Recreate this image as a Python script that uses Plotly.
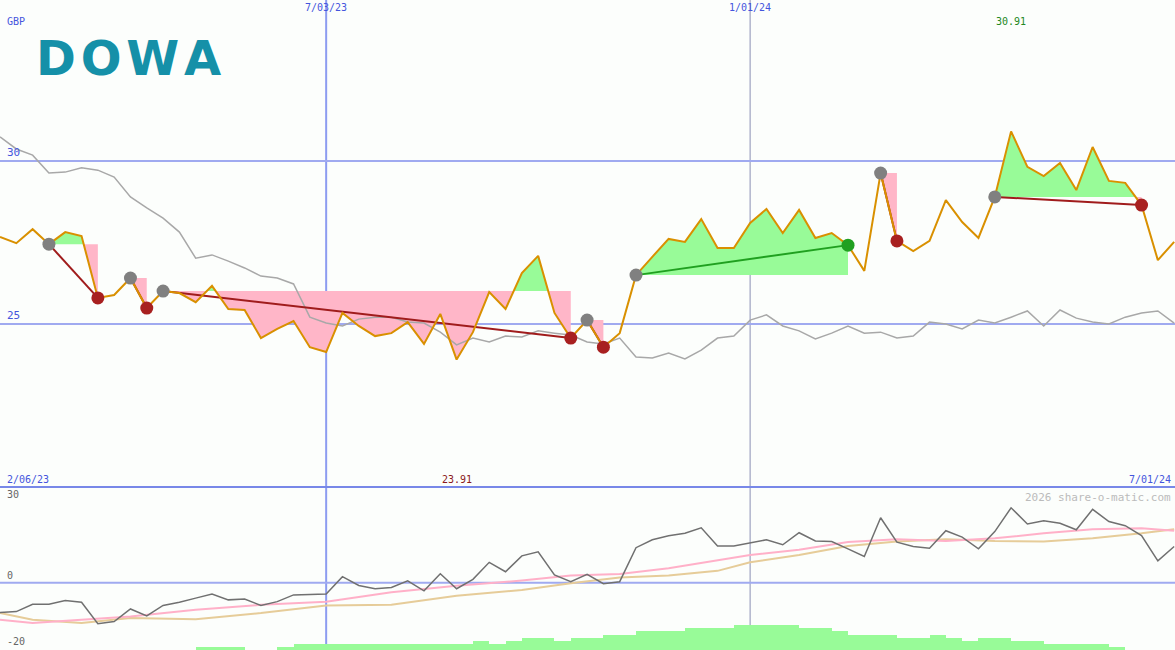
import pandas as pd
import plotly.graph_objects as go

# weekly closes (GBP)
dates = pd.date_range("2023-02-13", periods=73, freq="7D")
price = [27.67, 27.48, 27.91, 27.45, 27.82, 27.70, 25.80, 25.89, 26.41, 25.49,
         26.01, 25.95, 25.67, 26.17, 25.46, 25.43, 24.57, 24.85, 25.09, 24.29,
         24.14, 25.34, 24.94, 24.63, 24.72, 25.06, 24.39, 25.31, 23.91, 24.75,
         25.98, 25.46, 26.56, 27.09, 25.34, 24.57, 25.12, 24.29, 24.72, 26.50,
         27.06, 27.61, 27.52, 28.22, 27.33, 27.33, 28.10, 28.53, 27.79, 28.50,
         27.64, 27.79, 27.42, 26.63, 29.63, 27.55, 27.24, 27.55, 28.80, 28.13,
         27.64, 28.90, 30.91, 29.82, 29.54, 29.94, 29.11, 30.43, 29.39, 29.33,
         28.65, 26.96, 27.52]
index_line = [30.74, 30.37, 30.18, 29.63, 29.66, 29.79, 29.72, 29.51, 28.90, 28.56,
              28.25, 27.82, 27.02, 27.12, 26.93, 26.72, 26.47, 26.41, 26.23, 25.21,
              25.03, 24.94, 25.15, 25.21, 25.21, 25.06, 25.03, 24.75, 24.36, 24.57,
              24.45, 24.63, 24.60, 24.79, 24.72, 24.66, 24.45, 24.39, 24.57, 23.99,
              23.96, 24.11, 23.93, 24.20, 24.57, 24.63, 25.12, 25.28, 24.94, 24.79,
              24.54, 24.72, 24.94, 24.72, 24.75, 24.57, 24.63, 25.06, 25.00, 24.85,
              25.12, 25.03, 25.21, 25.40, 24.94, 25.43, 25.18, 25.06, 25.00, 25.21,
              25.34, 25.40, 25.03]

# trades: entry week, exit week, win?
trade_entry = [3, 8, 10, 36, 39, 54, 61]
trade_exit = [6, 9, 35, 37, 52, 55, 70]
trade_win = [False, False, False, False, True, False, False]

# lower panel
momentum = [-10.1, -9.8, -7.3, -7.3, -6.0, -6.6, -13.9, -13.2, -8.9, -11.3,
            -7.7, -6.6, -5.2, -3.8, -5.8, -5.5, -7.7, -6.4, -4.1, -3.9,
            -3.8, 2.1, -0.9, -2.0, -1.6, 0.7, -2.7, 3.1, -2.0, 1.2,
            7.0, 3.8, 9.2, 10.6, 2.7, 0.4, 2.9, -0.3, 0.4, 12.0,
            14.7, 16.1, 16.9, 18.8, 12.6, 12.6, 13.7, 14.7, 13.0, 17.1,
            14.3, 14.1, 11.6, 9.0, 22.2, 13.9, 12.4, 11.8, 17.8, 15.6,
            11.6, 17.5, 25.6, 20.1, 21.2, 20.3, 18.1, 25.1, 20.9, 19.5,
            16.1, 7.5, 12.4]
ma_idx = [0, 2, 5, 8, 12, 16, 20, 24, 28, 32, 35, 38, 41, 44, 46, 49, 52, 55, 58, 61, 64, 67, 70, 72]
ma_fast = [-12.6, -13.7, -12.6, -11.5, -9.2, -7.5, -6.4, -3.2, -1.0, 0.8, 2.5, 3.0,
           5.0, 7.8, 9.5, 11.3, 13.9, 14.9, 14.3, 15.2, 16.9, 18.3, 18.6, 17.8]
ma_slow = [-10.3, -12.6, -13.7, -12.0, -12.4, -10.3, -7.7, -7.5, -4.4, -2.4, -0.1, 1.8,
           2.5, 4.1, 7.0, 9.5, 12.6, 14.1, 14.9, 14.3, 14.1, 15.2, 16.9, 18.3]
vol_bars = [0, 0, 0, 0, 0, 0, 0, 0, 0, 0, 0, 0, 0.9, 0.9, 0.9, 0, 0, 0.9, 1.9, 1.9,
            1.9, 1.9, 1.9, 1.9, 1.9, 1.9, 1.9, 1.9, 1.9, 3.1, 1.9, 3.1, 4.0, 4.0, 3.1, 4.0,
            4.0, 5.1, 5.1, 6.5, 6.5, 6.5, 7.4, 7.4, 7.4, 8.5, 8.5, 8.5, 8.5, 7.4,
            7.4, 6.5, 5.1, 5.1, 5.1, 4.0, 4.0, 5.1, 4.0, 3.1, 4.0, 4.0, 3.1, 3.1,
            1.9, 1.9, 1.9, 1.9, 0.9, 0, 0, 0, 0]

BLUE = "#a0aaf0"
fig = go.Figure()

def band(i0, i1, lvl):
    xs, ps = [], []
    for i in range(i0, i1 + 1):
        xs.append(dates[i]); ps.append(price[i])
        if i < i1 and (price[i] - lvl) * (price[i + 1] - lvl) < 0:
            f = (lvl - price[i]) / (price[i + 1] - price[i])
            xs.append(dates[i] + (dates[i + 1] - dates[i]) * f); ps.append(lvl)
    return xs, ps

for e, x, w in zip(trade_entry, trade_exit, trade_win):
    lvl = price[e]
    xs, ps = band(e, x, lvl)
    back = list(reversed(xs))
    fig.add_trace(go.Scatter(x=xs + back, y=[max(p, lvl) for p in ps] + [lvl] * len(back),
                             fill="toself", fillcolor="#98fb98", line_width=0, mode="lines",
                             hoverinfo="skip"))
    fig.add_trace(go.Scatter(x=xs + back, y=[min(p, lvl) for p in ps] + [lvl] * len(back),
                             fill="toself", fillcolor="#ffb6c8", line_width=0, mode="lines",
                             hoverinfo="skip"))

fig.add_trace(go.Scatter(x=dates, y=index_line, mode="lines", line=dict(color="#a8a8a8", width=1.5)))
for e, x, w in zip(trade_entry, trade_exit, trade_win):
    fig.add_trace(go.Scatter(x=[dates[e], dates[x]], y=[price[e], price[x]], mode="lines",
                             line=dict(color="#20a020" if w else "#a01c1c", width=2)))
fig.add_trace(go.Scatter(x=dates, y=price, mode="lines", line=dict(color="#d99000", width=2)))
fig.add_trace(go.Scatter(x=[dates[i] for i in trade_entry], y=[price[i] for i in trade_entry],
                         mode="markers", marker=dict(color="#808080", size=13)))
fig.add_trace(go.Scatter(x=[dates[i] for i in trade_exit], y=[price[i] for i in trade_exit],
                         mode="markers",
                         marker=dict(color=["#20a020" if w else "#a82020" for w in trade_win], size=13)))

# lower panel
fig.add_trace(go.Bar(x=dates, y=vol_bars, base=-22.9, width=7 * 86400000, offset=0,
                     marker=dict(color="#98fb98", line_width=0), yaxis="y2"))
fig.add_trace(go.Scatter(x=[dates[i] for i in ma_idx], y=ma_slow, mode="lines",
                         line=dict(color="#e6cc99", width=2), yaxis="y2"))
fig.add_trace(go.Scatter(x=[dates[i] for i in ma_idx], y=ma_fast, mode="lines",
                         line=dict(color="#ffb0c8", width=2), yaxis="y2"))
fig.add_trace(go.Scatter(x=dates, y=momentum, mode="lines", line=dict(color="#707070", width=1.5),
                         yaxis="y2"))

split = 163 / 650
for d, c, wd in [("2023-07-03", "#8c9cf0", 2), ("2024-01-01", "#b0b4cc", 1.5)]:
    fig.add_shape(type="line", x0=d, x1=d, y0=0, y1=1, yref="paper", layer="below",
                  line=dict(color=c, width=wd))
for v in [30, 25]:
    fig.add_shape(type="line", x0=0, x1=1, xref="paper", y0=v, y1=v, layer="below",
                  line=dict(color=BLUE, width=2))
fig.add_shape(type="line", x0=0, x1=1, xref="paper", y0=0, y1=0, yref="y2", layer="below",
              line=dict(color=BLUE, width=2))
fig.add_shape(type="line", x0=0, x1=1, xref="paper", y0=split, y1=split, yref="paper",
              line=dict(color="#7888e8", width=2))

mono = "DejaVu Sans Mono"
def note(text, x, y, xanchor="left", yanchor="top", color="#4455dd", xref="x", yref="paper", size=10):
    fig.add_annotation(text=text, x=x, y=y, xref=xref, yref=yref, xanchor=xanchor, yanchor=yanchor,
                       showarrow=False, font=dict(family=mono, size=size, color=color))

note("GBP", 0.004, 1 - 14 / 650, xref="paper")
note("30", 0.004, 30, yanchor="bottom", yref="y", xref="paper", size=11)
note("25", 0.004, 25, yanchor="bottom", yref="y", xref="paper", size=11)
note("7/03/23", "2023-07-03", 1, xanchor="center")
note("1/01/24", "2024-01-01", 1, xanchor="center")
note("30.91", dates[62], 1 - 14 / 650, xanchor="center", color="#228822")
note("2/06/23", 0.004, split, xref="paper", yanchor="bottom")
note("23.91", dates[28], split, xanchor="center", yanchor="bottom", color="#8b1a1a")
note("7/01/24", 0.998, split, xref="paper", xanchor="right", yanchor="bottom")
note("30", 0.004, 30, yref="y2", xref="paper", yanchor="middle", color="#666666")
note("0", 0.004, 0, yref="y2", xref="paper", yanchor="bottom", color="#666666")
note("-20", 0.004, -20, yref="y2", xref="paper", yanchor="middle", color="#666666")
note("2026 share-o-matic.com", 0.998, split - 2 / 650, xref="paper", xanchor="right",
     color="#bbbbbb", size=11)
fig.add_annotation(text="<b>D\u200aO\u200aW\u200aA</b>", x=34 / 1175, y=1 - 28 / 650,
                   xref="paper", yref="paper", xanchor="left", yanchor="top", showarrow=False,
                   font=dict(family="DejaVu Sans", size=48, color="#1590a8"))

fig.update_layout(
    width=1175, height=650, autosize=False, margin=dict(l=0, r=0, t=0, b=0),
    paper_bgcolor="#fcfefc", plot_bgcolor="#fcfefc", showlegend=False, bargap=0,
    xaxis=dict(range=["2023-02-13", "2024-07-01 08:40"], showgrid=False, showticklabels=False,
               zeroline=False),
    yaxis=dict(domain=[split, 1], range=[20.0, 34.94], showgrid=False, showticklabels=False,
               zeroline=False),
    yaxis2=dict(domain=[0, split], range=[-22.9, 32.7], showgrid=False, showticklabels=False,
                zeroline=False),
)
fig.write_html("out.html", config={"displayModeBar": False},
               post_script="document.body.style.margin='0';document.body.style.overflow='hidden';")
